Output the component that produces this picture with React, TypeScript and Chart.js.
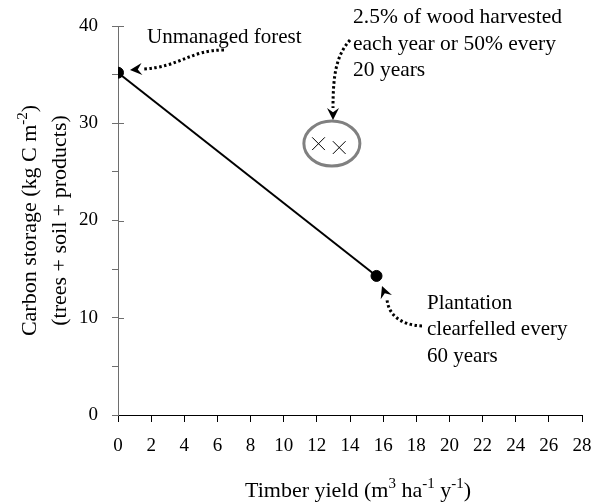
import React, { useEffect, useRef } from "react";
import { Chart, registerables } from "chart.js";

Chart.register(...registerables);

// ---- data ----
const LINE_X = [0, 15.6];
const LINE_Y = [35.2, 14.3];
const HARVEST_X = [12.1, 13.35];
const HARVEST_Y = [27.9, 27.5];
const X_MIN = 0;
const X_MAX = 28;
const X_STEP = 2;
const Y_MIN = 0;
const Y_MAX = 40;
const Y_STEP = 5;
const Y_LABEL_STEP = 10;

const FONT = "'Liberation Serif', 'Times New Roman', serif";
const Y_AXIS_COLOR = "#6e6e6e";

type Part = { t: string; sup?: boolean };

function drawRich(ctx: CanvasRenderingContext2D, parts: Part[], cx: number, y: number, size: number) {
  const supSize = Math.round(size * 0.68);
  const widths = parts.map((p) => {
    ctx.font = `${p.sup ? supSize : size}px ${FONT}`;
    return ctx.measureText(p.t).width;
  });
  const total = widths.reduce((a, b) => a + b, 0);
  let x = cx - total / 2;
  ctx.textAlign = "left";
  ctx.textBaseline = "alphabetic";
  parts.forEach((p, i) => {
    ctx.font = `${p.sup ? supSize : size}px ${FONT}`;
    ctx.fillText(p.t, x, p.sup ? y - size * 0.4 : y);
    x += widths[i];
  });
}

function dottedArrow(
  ctx: CanvasRenderingContext2D,
  pts: number[],
  tip: [number, number]
) {
  const [x0, y0, c1x, c1y, c2x, c2y, ex, ey] = pts;
  ctx.save();
  ctx.strokeStyle = "#000";
  ctx.lineWidth = 3;
  ctx.setLineDash([2.5, 2.5]);
  ctx.beginPath();
  ctx.moveTo(x0, y0);
  ctx.bezierCurveTo(c1x, c1y, c2x, c2y, ex, ey);
  ctx.stroke();
  ctx.setLineDash([]);
  // barbed arrowhead
  const dx = tip[0] - ex;
  const dy = tip[1] - ey;
  const len = Math.hypot(dx, dy) || 1;
  const ux = dx / len;
  const uy = dy / len;
  const L = 12;
  const W = 6;
  const bx = tip[0] - ux * L;
  const by = tip[1] - uy * L;
  ctx.fillStyle = "#000";
  ctx.beginPath();
  ctx.moveTo(tip[0], tip[1]);
  ctx.lineTo(bx - uy * W, by + ux * W);
  ctx.lineTo(tip[0] - ux * L * 0.65, tip[1] - uy * L * 0.65);
  ctx.lineTo(bx + uy * W, by - ux * W);
  ctx.closePath();
  ctx.fill();
  ctx.restore();
}

const annotPlugin = {
  id: "annot",
  afterDraw(chart: any) {
    const ctx: CanvasRenderingContext2D = chart.ctx;
    const { left, right, top, bottom } = chart.chartArea;
    const xs = chart.scales.x;
    const ys = chart.scales.y;
    ctx.save();

    // inner halves of the major y ticks
    ctx.strokeStyle = Y_AXIS_COLOR;
    ctx.lineWidth = 1;
    for (let v = Y_MIN + Y_LABEL_STEP; v <= Y_MAX; v += Y_LABEL_STEP) {
      const py = Math.round(ys.getPixelForValue(v)) + 0.5;
      ctx.beginPath();
      ctx.moveTo(left, py);
      ctx.lineTo(left + 6, py);
      ctx.stroke();
    }

    // ellipse around the harvest points
    const hx = HARVEST_X.map((v) => xs.getPixelForValue(v));
    const hy = HARVEST_Y.map((v) => ys.getPixelForValue(v));
    const cx = (hx[0] + hx[1]) / 2 + 3;
    const cy = (hy[0] + hy[1]) / 2 - 2;
    ctx.strokeStyle = "#808080";
    ctx.lineWidth = 3;
    ctx.beginPath();
    ctx.ellipse(cx, cy, 28, 22.5, 0, 0, Math.PI * 2);
    ctx.stroke();

    // annotation texts
    ctx.fillStyle = "#000";
    ctx.textAlign = "left";
    ctx.textBaseline = "alphabetic";
    ctx.font = `21px ${FONT}`;
    ctx.fillText("Unmanaged forest", 147, 43);
    ctx.font = `21.5px ${FONT}`;
    ctx.fillText("2.5% of wood harvested", 353, 23);
    ctx.fillText("each year or 50% every", 353, 50);
    ctx.fillText("20 years", 353, 76);
    ctx.font = `21px ${FONT}`;
    ctx.fillText("Plantation", 427, 309);
    ctx.fillText("clearfelled every", 427, 335);
    ctx.fillText("60 years", 427, 362);

    // arrows
    dottedArrow(ctx, [224, 50, 190, 50, 180, 67, 143, 69], [130, 70]);
    dottedArrow(ctx, [350, 40, 337, 55, 333, 72, 333, 108], [333, 120]);
    dottedArrow(ctx, [422, 326, 400, 325, 388, 314, 387, 299], [382, 286]);

    // axis titles
    ctx.fillStyle = "#000";
    drawRich(
      ctx,
      [
        { t: "Timber yield (m" },
        { t: "3", sup: true },
        { t: " ha" },
        { t: "-1", sup: true },
        { t: " y" },
        { t: "-1", sup: true },
        { t: ")" },
      ],
      358,
      497,
      22
    );
    const midY = (top + bottom) / 2;
    ctx.save();
    ctx.translate(36, midY);
    ctx.rotate(-Math.PI / 2);
    drawRich(
      ctx,
      [{ t: "Carbon storage (kg C m" }, { t: "-2", sup: true }, { t: ")" }],
      0,
      0,
      22
    );
    ctx.restore();
    ctx.save();
    ctx.translate(66, midY);
    ctx.rotate(-Math.PI / 2);
    drawRich(ctx, [{ t: "(trees + soil + products)" }], 0, 0, 22);
    ctx.restore();

    ctx.restore();
  },
};

export default function App() {
  const ref = useRef<HTMLCanvasElement | null>(null);
  useEffect(() => {
    if (!ref.current) return;
    const chart = new Chart(ref.current, {
      type: "scatter",
      data: {
        datasets: [
          {
            data: LINE_X.map((x, i) => ({ x, y: LINE_Y[i] })),
            showLine: true,
            borderColor: "#000",
            borderWidth: 2,
            pointRadius: 5.5,
            pointBackgroundColor: "#000",
            pointBorderColor: "#000",
            pointBorderWidth: 1,
          },
          {
            data: HARVEST_X.map((x, i) => ({ x, y: HARVEST_Y[i] })),
            showLine: false,
            pointStyle: "crossRot",
            pointRadius: 9,
            borderColor: "#000",
            borderWidth: 1,
          },
        ],
      },
      options: {
        animation: false,
        responsive: false,
        maintainAspectRatio: false,
        layout: { padding: { top: 26, right: 9, left: 0, bottom: 0 } },
        plugins: { legend: { display: false }, tooltip: { enabled: false } },
        scales: {
          x: {
            type: "linear",
            min: X_MIN,
            max: X_MAX,
            afterFit: (s: any) => {
              s.height = 88;
              s.paddingLeft = 0;
              s.paddingRight = 0;
            },
            ticks: {
              stepSize: X_STEP,
              color: "#000",
              padding: 13,
              font: { family: FONT, size: 19 },
              maxRotation: 0,
            },
            grid: {
              display: true,
              drawOnChartArea: false,
              drawTicks: true,
              tickLength: 7,
              color: "#000",
            },
            border: { display: true, color: "#000", width: 1 },
          },
          y: {
            type: "linear",
            min: Y_MIN,
            max: Y_MAX,
            afterFit: (s: any) => {
              s.width = 118;
              s.paddingTop = 0;
              s.paddingBottom = 0;
            },
            ticks: {
              stepSize: Y_STEP,
              color: "#000",
              padding: 14,
              font: { family: FONT, size: 19 },
              callback: (v: any) => (Number(v) % Y_LABEL_STEP === 0 ? String(v) : ""),
            },
            grid: {
              display: true,
              drawOnChartArea: false,
              drawTicks: true,
              tickLength: 6,
              color: Y_AXIS_COLOR,
            },
            border: { display: true, color: Y_AXIS_COLOR, width: 1 },
          },
        },
      },
      plugins: [annotPlugin],
    } as any);
    return () => chart.destroy();
  }, []);
  return (
    <div style={{ position: "fixed", left: 0, top: 0, width: 592, height: 503, background: "#fff" }}>
      <canvas ref={ref} width={592} height={503} style={{ width: 592, height: 503 }} />
    </div>
  );
}
